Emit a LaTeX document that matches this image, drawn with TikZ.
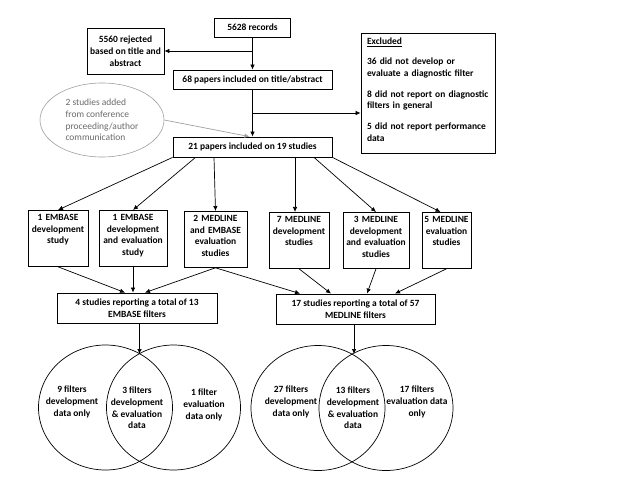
\documentclass[tikz,border=0pt]{standalone}
\usepackage{fontspec}
\setmainfont{Carlito}
\usetikzlibrary{shapes.geometric,arrows.meta}
\definecolor{addgray}{RGB}{160,160,160}
\definecolor{addtext}{RGB}{105,105,105}

\begin{document}
\begin{tikzpicture}[x=1bp, y=-1bp, every node/.style={font=\fontsize{9.5}{11.8}\selectfont\bfseries, inner sep=2bp},
	box/.style={draw, line width=0.8pt, align=center},
	cell/.style={box, text width=#1, text height=8bp, text depth=44bp, anchor=north},
	arr/.style={-{Latex[length=5bp,width=4.5bp]}, line width=0.7pt},
	venn/.style={draw, ellipse, line width=0.7pt, minimum width=134bp, minimum height=125bp}]
	\useasboundingbox (0,0) rectangle (640,480);
	\node[box, minimum width=76bp, minimum height=19bp] (rec) at (252.5,27.5) {5628 records};
	\node[box, minimum width=77bp, minimum height=46bp] (rej) at (125.5,51) {5560 rejected\\based on title and\\abstract};
	\node[box, minimum width=159bp, minimum height=19bp] (inc) at (252.5,79.5) {68 papers included on title/abstract};
	\node[box, text width=122bp, inner xsep=6bp, align=left, text height=9.5bp, text depth=107bp, anchor=north] (exc) at (428,33) {\underline{Excluded}\\[8bp] 36 did not develop or\\evaluate a diagnostic filter\\[9bp] 8 did not report on diagnostic\\filters in general\\[9bp] 5 did not report performance\\data};
	\node[ellipse, draw=addgray, line width=0.6pt, minimum width=124bp, minimum height=74bp, align=left, text=addtext, font=\fontsize{9.5}{11.8}\selectfont] (add) at (102,120) {2 studies added\\from conference\\proceeding/author\\communication};
	\node[box, minimum width=159bp, minimum height=20bp] (pap) at (252.5,147) {21 papers included on 19 studies};
	\node[cell=56bp] (b1) at (58,210) {1 EMBASE\\development\\study}; \node[cell=64bp] (b2) at (133,210) {1 EMBASE\\development\\and evaluation\\study};
	\node[cell=59bp] (b3) at (215.5,211) {2 MEDLINE\\and EMBASE\\evaluation\\studies}; \node[cell=56bp] (b4) at (299,212) {7 MEDLINE\\development\\studies};
	\node[cell=62bp] (b5) at (376,212) {3 MEDLINE\\development\\and evaluation\\studies}; \node[cell=45bp] (b6) at (446.5,212) {5 MEDLINE\\evaluation\\studies};
	\node[box, minimum width=160bp, minimum height=30bp] (emb) at (137,308) {4 studies reporting a total of 13\\EMBASE filters};
	\node[box, minimum width=159bp, minimum height=30bp] (med) at (355.5,309) {17 studies reporting a total of 57\\MEDLINE filters};
	\node[venn] (c1) at (105.5,407.5) {}; \node[venn] (c2) at (173.5,407.5) {};
	\node[venn] (c3) at (318,408) {}; \node[venn] (c4) at (386,408) {};
	\node[align=center] (t1) at (72,402) {9 filters\\development\\data only}; \node[align=center] (t2) at (137,408) {3 filters\\development\\\& evaluation\\data};
	\node[align=center] (t3) at (204,405) {1 filter\\evaluation\\data only};
	\node[align=center] (t4) at (291,402) {27 filters\\development\\data only}; \node[align=center] (t5) at (353,408) {13 filters\\development\\\& evaluation\\data};
	\node[align=center] (t6) at (417,402) {17 filters\\evaluation data\\only};
	\coordinate (j1) at (252.5,113); \coordinate (v1) at (139.5,354); \coordinate (v2) at (354,354);
	\draw[arr] (rec) -- (inc);
	\draw[arr] (rec.south |- rej.east) -- (rej.east);
	\draw[arr, addgray] (add.east) -- ([xshift=-3bp]pap.north);
	\draw[arr] (inc) -- (pap);
	\draw[arr] (j1) -- (j1 -| exc.west);
	\draw[arr] (pap.south west) -- (b1.north);
	\draw[arr] ([xshift=-57bp]pap.south) -- (b2.north);
	\draw[arr] ([xshift=-38.5bp]pap.south) -- (b3.north);
	\draw[arr] ([xshift=42.5bp]pap.south) coordinate (s4) -- (s4 |- b4.north);
	\draw[arr] ([xshift=61.5bp]pap.south) -- (b5.north);
	\draw[arr] (pap.south east) -- ([xshift=-6bp]b6.north);
	\draw[arr] (b1.south) -- ([xshift=-12bp]emb.north);
	\draw[arr] (b2.south) -- (b2.south |- emb.north);
	\draw[arr] (b3.south) -- ([xshift=8bp]emb.north);
	\draw[arr] (b3.south) -- ([xshift=-55.5bp]med.north);
	\draw[arr] (b4.south) -- ([xshift=-24.5bp]med.north);
	\draw[arr] (b5.south) -- ([xshift=11.5bp]med.north);
	\draw[arr] (b6.south) -- ([xshift=39.5bp]med.north);
	\draw[arr] (emb.south -| v1) -- (v1);
	\draw[arr] (med.south -| v2) -- (v2);
\end{tikzpicture}
\end{document}
